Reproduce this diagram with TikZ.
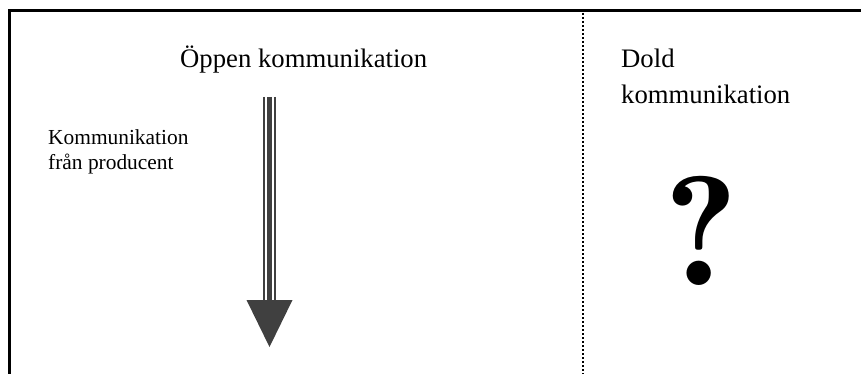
\documentclass[tikz,border=0pt]{standalone}
\usepackage{fontspec}
\setmainfont{Liberation Serif}
\usetikzlibrary{positioning}

\begin{document}
\begin{tikzpicture}[x=1pt, y=-1pt]
					\useasboundingbox (0, 0) rectangle (861, 374);
					\draw[black, line width = 3pt] (9.5, 374)--(9.5, 11)--(861, 11);
					\draw[black, line width = 2.4pt, dash pattern = on 2pt off 2pt] (583, 13)--(583, 374);
					\coordinate (top) at (269.5, 97);
					\coordinate (base) at (269.5, 300);
					\coordinate (tip) at (269.5, 347);
					\draw[black!75, line width = 1.4pt] ([xshift = -5.4pt]top)--([xshift = -5.4pt]base);
					\draw[black!75, line width = 1.4pt] ([xshift = 5.4pt]top)--([xshift = 5.4pt]base);
					\draw[black!75, line width = 5.6pt] (top)--(base);
					\fill[black!75] ([xshift = -23pt]base)--([xshift = 23pt]base)--(tip)--cycle;
					\node[anchor = base west, inner sep = 0, font = \fontsize{26.7}{36}\selectfont] (open) at (180, 68) {Öppen kommunikation};
					\node[anchor = base west, inner sep = 0, font = \fontsize{21.4}{25}\selectfont, align = left] (producer) at (48, 170) {Kommunikation\\från producent};
					\node[anchor = base west, inner sep = 0, font = \fontsize{26.7}{36}\selectfont, align = left] (hidden) at (621, 104) {Dold\\kommunikation};
					\node[anchor = base, inner sep = 0, font = \fontfamily{lmr}\fontseries{b}\fontsize{156}{156}\selectfont] (question) at (701, 285) {?};
				\end{tikzpicture}
\end{document}
